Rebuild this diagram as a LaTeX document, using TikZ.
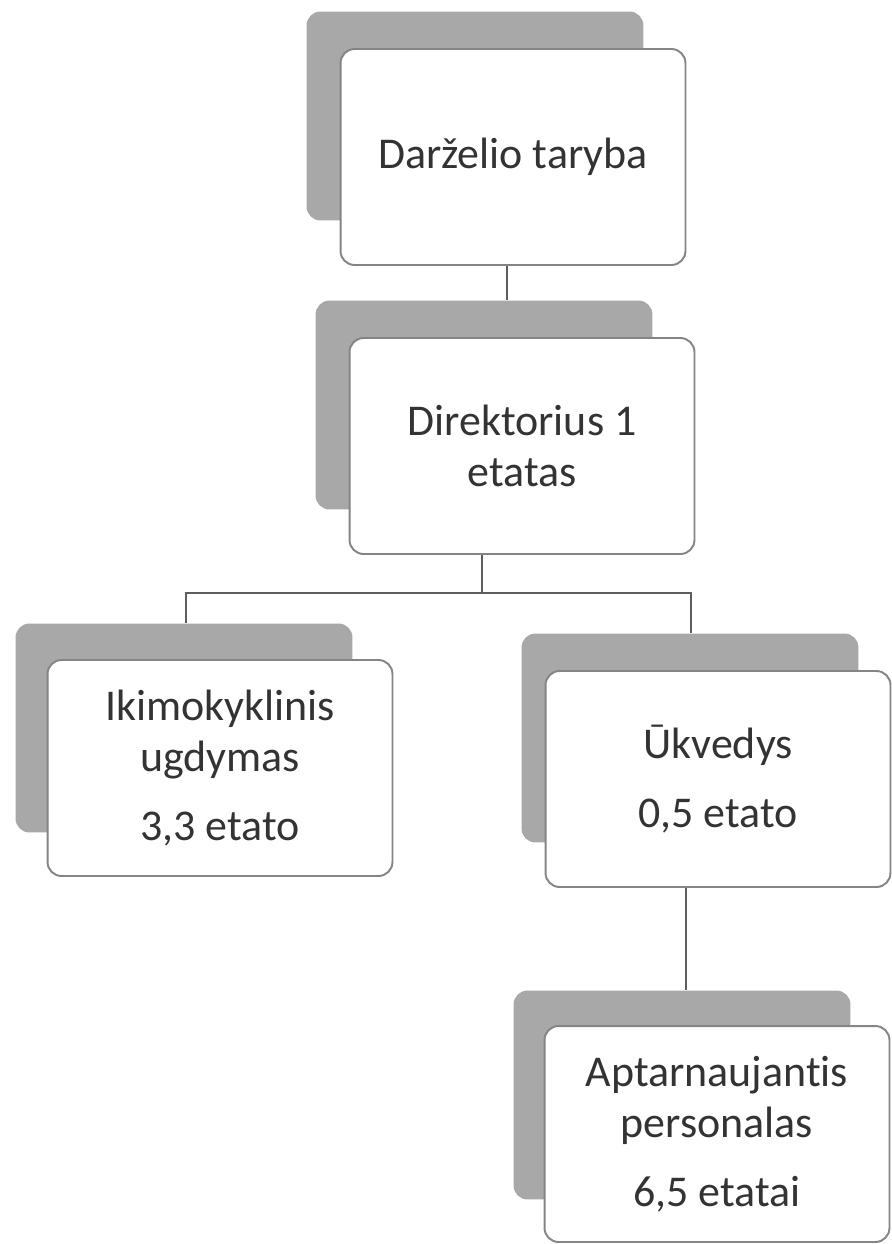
\documentclass[tikz,border=0pt]{standalone}
\usepackage{fontspec}
\setmainfont[Ligatures=NoCommon]{Carlito}
\usetikzlibrary{calc}

\definecolor{boxline}{HTML}{858585}
\definecolor{boxshade}{HTML}{A8A8A8}
\definecolor{boxtext}{HTML}{333333}
\definecolor{orgline}{HTML}{5E5E5E}

\tikzset{
  orgbox/.style={draw=boxline, line width=1.1pt, fill=white, rounded corners=.28cm,
    minimum width=6.9cm, minimum height=4.32cm, inner sep=0pt, align=center,
    text=boxtext, font=\fontsize{25}{29}\selectfont},
  orgshade/.style={fill=boxshade, rounded corners=.28cm, inner sep=0pt,
    minimum width=6.74cm, minimum height=4.18cm},
  orglink/.style={draw=orgline, line width=.9pt}
}

\begin{document}
\begin{tikzpicture}[x=.02cm, y=-.02cm]
	\useasboundingbox (0,0) rectangle (892,1244);
	% seseliai
	\node[orgshade] (dtS)  at (475,116)  {};
	\node[orgshade] (dirS) at (484,405)  {};
	\node[orgshade] (ikiS) at (184,728)  {};
	\node[orgshade] (ukvS) at (690,738)  {};
	\node[orgshade] (aptS) at (682,1095) {};
	% langeliai
	\node[orgbox] (dt)  at (513,157)  {Darželio taryba};
	\node[orgbox] (dir) at (522,446)  {Direktorius 1\\etatas};
	\node[orgbox] (iki) at (220,768)  {Ikimokyklinis\\ugdymas\\[10pt]3,3 etato};
	\node[orgbox] (ukv) at (718,779)  {Ūkvedys\\[10pt]0,5 etato};
	\node[orgbox] (apt) at (717,1134) {Aptarnaujantis\\personalas\\[10pt]6,5 etatai};
	% jungtys
	\coordinate (bus)  at (482,593);
	\coordinate (busL) at (186,593);
	\coordinate (busR) at (691,593);
	\draw[orglink] ([xshift=-.12cm]dt.south) -- ([xshift=-.12cm]dt.south |- dirS.north);
	\draw[orglink] (dir.south -| bus) -- (bus);
	\draw[orglink] (ikiS.north -| busL) -- (busL) -- (busR) -- (ukvS.north -| busR);
	\draw[orglink] ([xshift=-.64cm]ukv.south) -- ([xshift=-.64cm]ukv.south |- aptS.north);
\end{tikzpicture}
\end{document}
